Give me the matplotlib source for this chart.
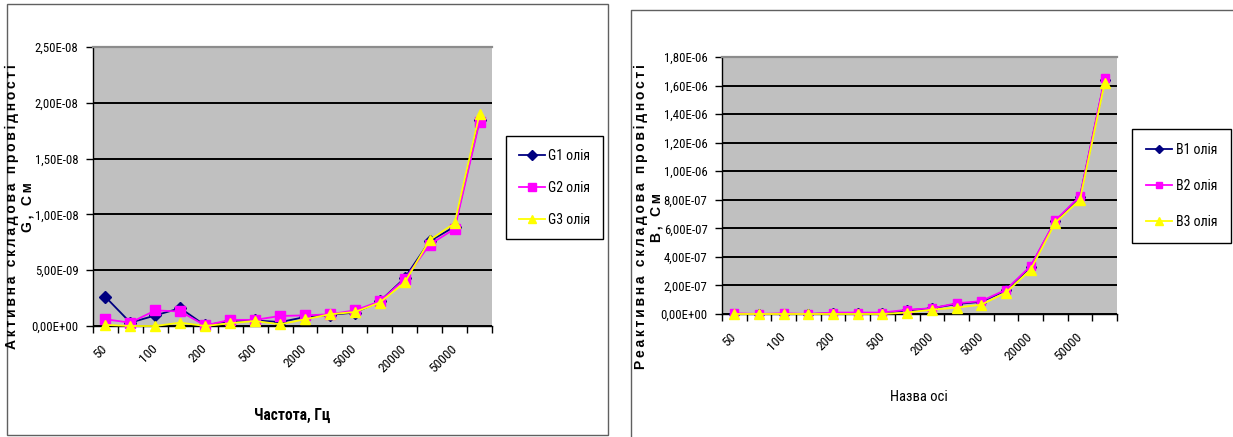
import matplotlib
matplotlib.use('Agg')
import matplotlib.pyplot as plt
from matplotlib import font_manager
from matplotlib.font_manager import FontProperties
from matplotlib.ticker import FixedLocator, FuncFormatter
from matplotlib.lines import Line2D
from matplotlib.patches import Rectangle
import numpy as np

# ---------------- data ----------------
categories = ['50', '70', '100', '150', '200', '300', '500', '1000',
              '2000', '3000', '5000', '10000', '20000', '30000', '50000', '100000']

g_labels = ['G1 олія', 'G2 олія', 'G3 олія']
g1 = [2.6e-9, 0.3e-9, 0.95e-9, 1.6e-9, 0.05e-9, 0.45e-9, 0.5e-9, 0.35e-9,
      0.8e-9, 1.0e-9, 1.2e-9, 2.2e-9, 4.3e-9, 7.6e-9, 8.9e-9, 18.5e-9]
g2 = [0.6e-9, 0.3e-9, 1.4e-9, 1.3e-9, 0.05e-9, 0.55e-9, 0.55e-9, 0.9e-9,
      0.95e-9, 1.05e-9, 1.4e-9, 2.2e-9, 4.2e-9, 7.3e-9, 8.7e-9, 18.3e-9]
g3 = [0.1e-9, 0.0, 0.0, 0.3e-9, 0.0, 0.25e-9, 0.45e-9, 0.15e-9,
      0.6e-9, 1.05e-9, 1.25e-9, 2.1e-9, 3.9e-9, 7.7e-9, 9.2e-9, 19.0e-9]

b_labels = ['B1 олія', 'B2 олія', 'B3 олія']
b1 = [0.0, 0.0, 0.0, 0.0, 0.05e-7, 0.05e-7, 0.05e-7, 0.25e-7,
      0.4e-7, 0.7e-7, 0.85e-7, 1.65e-7, 3.3e-7, 6.5e-7, 8.2e-7, 16.4e-7]
b2 = [0.05e-7, 0.0, 0.05e-7, 0.0, 0.1e-7, 0.1e-7, 0.1e-7, 0.3e-7,
      0.4e-7, 0.75e-7, 0.9e-7, 1.7e-7, 3.35e-7, 6.55e-7, 8.25e-7, 16.5e-7]
b3 = [0.0, 0.0, 0.0, 0.0, 0.0, 0.0, 0.0, 0.1e-7,
      0.3e-7, 0.45e-7, 0.65e-7, 1.5e-7, 3.1e-7, 6.4e-7, 8.0e-7, 16.2e-7]

g_ymax, g_step = 2.5e-8, 5e-9
b_ymax, b_step = 1.8e-6, 2e-7

left_ylabel = 'Активна складова провідності\nG, См'
left_xlabel = 'Частота, Гц'
right_ylabel = 'Реактивна складова провідності\nB, См'
right_xlabel = 'Назва осі'

# ---------------- fonts ----------------
def find_condensed():
    cands = [('Liberation Sans Narrow', 'normal'), ('Liberation Sans Narrow', 'condensed'),
             ('Roboto Condensed', 'normal'), ('DejaVu Sans', 'condensed'),
             ('Noto Sans', 'condensed'), ('Roboto', 'condensed'), ('Open Sans', 'condensed')]
    for fam, st in cands:
        try:
            p = font_manager.findfont(FontProperties(family=fam, stretch=st),
                                      fallback_to_default=False)
        except Exception:
            continue
        low = p.lower()
        if 'narrow' in low or 'condensed' in low:
            return fam, st, True
    return 'Liberation Sans', 'normal', False


NFAM, NSTRETCH, IS_COND = find_condensed()
WIDE = 'Liberation Sans'
plt.rcParams['font.family'] = [NFAM, 'DejaVu Sans']
plt.rcParams['font.stretch'] = NSTRETCH
FS = 9.2 if IS_COND else 7.8

W, H = 1233, 437
fig = plt.figure(figsize=(W / 100, H / 100), dpi=100)
fig.patch.set_facecolor('white')


def px_rect(l, t, r, b):
    return [l / W, 1 - b / H, (r - l) / W, (b - t) / H]


def excel_fmt(v, pos=None):
    return f"{v:.2E}".replace('.', ',')


def spaced(s):
    return '\n'.join('\u2009'.join(list(line)) for line in s.split('\n'))


colors = ['#000080', '#FF00FF', '#FFFF00']
markers = ['D', 's', '^']


def draw(ax, series, labels, ymax, step, msz):
    x = np.arange(len(categories))
    ax.set_facecolor('#C0C0C0')
    for i, (vals, c, m, lab) in enumerate(zip(series, colors, markers, labels)):
        ax.plot(x, vals, color=c, marker=m, ms=msz[i], mfc=c, mec=c, lw=1.3,
                label=lab, zorder=3 + i, clip_on=False)
    ax.set_xlim(-0.5, len(categories) - 0.5)
    ax.set_ylim(0, ymax)
    ax.yaxis.set_major_locator(FixedLocator(np.arange(0, ymax + step / 2, step)))
    ax.yaxis.set_major_formatter(FuncFormatter(excel_fmt))
    ax.set_xticks(x[::2])
    ax.set_xticklabels(categories[::2], rotation=45, ha='right', va='center',
                       rotation_mode='anchor', fontsize=FS + 0.5)
    ax.set_xticks(np.arange(len(categories) + 1) - 0.5, minor=True)
    ax.tick_params(axis='x', which='major', length=0, pad=15)
    ax.tick_params(axis='x', which='minor', length=5, width=1, direction='out', color='black')
    ax.tick_params(axis='y', length=5, width=1, direction='out', pad=5.5, labelsize=FS)
    ax.grid(axis='y', color='black', lw=1.4)
    ax.set_axisbelow(True)
    for s in ['left', 'bottom']:
        ax.spines[s].set_color('black')
        ax.spines[s].set_linewidth(1)
    ax.spines['top'].set_color('#8c8c8c')
    ax.spines['top'].set_linewidth(1.6)
    ax.spines['right'].set_visible(False)


axL = fig.add_axes(px_rect(93, 47, 492, 326))
draw(axL, [g1, g2, g3], g_labels, g_ymax, g_step, [6, 6.5, 7])
axR = fig.add_axes(px_rect(722, 57, 1117, 314))
draw(axR, [b1, b2, b3], b_labels, b_ymax, b_step, [5, 6, 6.5])

# axis titles
for (cx, cy), txt in [((20, 207), left_ylabel), ((649, 217), right_ylabel)]:
    fig.text(cx / W, 1 - cy / H, spaced(txt), rotation=90, ha='center', va='center',
             family=[WIDE, 'DejaVu Sans'], fontstretch='normal', fontweight='bold',
             fontsize=10, multialignment='center', linespacing=1.1)
fig.text(292 / W, 1 - 415 / H, left_xlabel, ha='center', va='center', fontweight='bold',
         fontsize=FS + 2)
fig.text(919 / W, 1 - 397 / H, right_xlabel, ha='center', va='center', fontsize=FS + 1.3)

# legends
for ax, (lx, ty), bp, ls in [(axL, (506, 136), 0.9, 1.3), (axR, (1132, 129), 1.0, 1.6)]:
    h, l = ax.get_legend_handles_labels()
    leg = fig.legend(h, l, loc='upper left', bbox_to_anchor=(lx / W, 1 - ty / H),
                     bbox_transform=fig.transFigure, frameon=True, fancybox=False,
                     edgecolor='black', framealpha=1, borderaxespad=0, numpoints=1,
                     handlelength=1.9, handletextpad=0.25, labelspacing=ls,
                     borderpad=bp, fontsize=FS + 0.8, markerscale=0.8)
    leg.get_frame().set_linewidth(1)

# chart borders
fig.add_artist(Rectangle((7 / W, 1 - 435 / H), (608 - 7) / W, (435 - 4) / H,
                         transform=fig.transFigure, fill=False, ec='#606060', lw=1))
fig.add_artist(Line2D([631 / W, 631 / W, 1232 / W], [0, 1 - 10 / H, 1 - 10 / H],
                      transform=fig.transFigure, color='#606060', lw=1))

fig.savefig('out.png', dpi=100)
